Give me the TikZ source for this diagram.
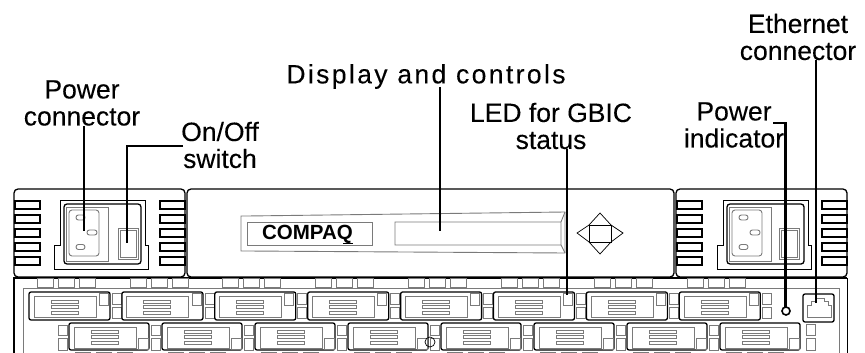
\documentclass[tikz,border=0pt]{standalone}
\usepackage{fontspec}
\setmainfont{Liberation Sans}
\newfontfamily\calloutfont[FakeBold=0.12]{Liberation Sans}
\usetikzlibrary{positioning}
\definecolor{bezel}{HTML}{7A7A7A}
\tikzset{
  callout/.style={align=center,inner sep=0pt,font=\calloutfont\fontsize{26.5}{27}\selectfont},
  leader/.style={black,line width=1.5pt},
  heavy/.style={black,line width=1.3pt,rounded corners=2pt},
  thin grey/.style={bezel,line width=0.9pt},
  ventbox/.style={black,line width=1.1pt},
  tabbox/.style={bezel,line width=0.8pt},
  inletpin/.style={thin grey,rounded corners=2.4pt}
}
\begin{document}
\begin{tikzpicture}[x=1pt,y=-1pt]
  \useasboundingbox (0,0) rectangle (865,353);
  % labels
  \node[callout] (powerconn) at (82,103) {Power\\connector};
  \node[callout] (onoff) at (220,145) {On/Off\\switch};
  \node[callout] (display) at (426,76.5) {\addfontfeature{LetterSpace=9}Display and controls};
  \node[callout] (gbic) at (551,126) {LED for GBIC\\status};
  \node[callout] (indicator) at (734,125) {Power\\indicator};
  \node[callout] (ethernet) at (798,37) {Ethernet\\connector};

  % three front panels
  \draw[heavy,rounded corners=4pt] (14,189) rectangle (185,277);
  \draw[heavy,rounded corners=4pt] (187,189) rectangle (674,277);
  \draw[heavy,rounded corners=4pt] (676,189) rectangle (847,277);
  \foreach \vx in {15,160,677,822}
    \foreach \vy in {201,215,229,243,257}
      \draw[ventbox] (\vx,\vy) rectangle ++(25,8);
  % power inlets
  \foreach \ox in {0,663} {
    \begin{scope}[xshift=\ox pt]
      \draw[black,line width=0.9pt] (60,200) -- (145,200) -- (145,245) -- (148,245) -- (148,269)
        -- (54,269) -- (54,245) -- (60,245) -- cycle;
      \draw[heavy,fill=white,rounded corners=3pt] (64,204) rectangle (141,264);
      \draw[thin grey] (66,207) rectangle (108,261);
      \draw[thin grey,rounded corners=3pt] (69,210) rectangle (99,256);
      \draw[inletpin] (76,215) rectangle ++(9,5);
      \draw[inletpin] (87,230) rectangle ++(10,5);
      \draw[inletpin] (76,244.5) rectangle ++(9,5);
    \end{scope}
  }
  \draw[thin grey] (118,228) rectangle (138,259) (120,230) rectangle (136,257);
  \draw[thin grey] (779,228) rectangle (799,259) (781,230) rectangle (797,257);

  % logo and display window
  \draw[thin grey] (247,216) -- (565,212) -- (565,253) -- (247,251) -- (241,251) -- (241,216) -- cycle;
  \draw[thin grey] (247,222) rectangle (372,245);
  \node[inner sep=0pt,font=\fontsize{20.5}{20}\selectfont\bfseries] (logo) at (307.5,234) {COMPAQ};
  \draw[black,line width=1.5pt] (343,243.5) -- (353,243.5);
  \draw[thin grey] (395,222) rectangle (561,245) (561,245) -- (565,253) (561,222) -- (565,212);
  % keypad
  \draw[black,line width=0.7pt] (600,213) -- (611,225) -- (623,233) -- (611,242) -- (600,254)
    -- (589,242) -- (577,233) -- (589,225) -- cycle;
  \draw[black,line width=0.7pt] (589,225) rectangle (611,242);

  % chassis
  \draw[black,line width=2pt] (14,353) -- (14,278) -- (847,278);
  \draw[black,line width=0.9pt] (847,278) -- (847,353);
  \draw[thin grey] (23,353) -- (23,288) -- (839,288) -- (839,353);
  \foreach \gx in {0,...,7}
    \foreach \tx in {37,58,79}
      \draw[tabbox] ({\tx+92.9*\gx},278) rectangle ++(16,9);
  % upper row of bays
  \foreach \gx in {0,...,7} {
    \begin{scope}[xshift=92.9*\gx pt]
      \draw[heavy,fill=white] (29,292) rectangle (110,320);
      \draw[thin grey] (34,296) rectangle (96,317);
      \draw[tabbox] (99,293) rectangle (108,305);
      \foreach \by in {300,305.5,311}
        \draw[thin grey] (51,\by) rectangle ++(27,3);
      \draw[tabbox] (112,293) rectangle (121,304) (112,307) rectangle (121,318);
    \end{scope}
  }
  % lower row of bays
  \foreach \gx in {0,...,7} {
    \begin{scope}[xshift=93*\gx pt]
      \draw[tabbox] (58,325) rectangle (67,335) (58,338) rectangle (67,350);
      \draw[heavy,fill=white] (69,323) rectangle (149,350);
      \draw[thin grey] (74,327) rectangle (136,348);
      \draw[tabbox] (138,338) rectangle (148,349);
      \foreach \by in {330,335.5,341}
        \draw[thin grey] (91,\by) rectangle ++(27,3);
      \foreach \tx in {75,96,117}
        \fill[bezel] (\tx,351.5) rectangle ++(16,2);
    \end{scope}
  }
  \draw[tabbox] (806,324) rectangle (815,335) (806,338) rectangle (815,350);
  \draw[black,line width=0.7pt] (430,342) circle (5);

  % indicator and ethernet jack
  \draw[black,line width=1.6pt,fill=white] (786,311) circle (4);
  \draw[heavy,fill=white] (803,294) rectangle (834,322);
  \draw[thin grey] (807,317) -- (807,305) -- (811,305) -- (811,301) -- (815,301) -- (815,298)
    -- (824,298) -- (824,301) -- (828,301) -- (828,305) -- (831,305) -- (831,317) -- cycle;

  % leader ends
  \coordinate (inletend) at (84,231);
  \coordinate (switchpad) at (127,243);
  \coordinate (onoffstub) at (183,146);
  \coordinate (displaypad) at (440,231);
  \coordinate (displaystub) at (440,87);
  \coordinate (gbicled) at (567,295);
  \coordinate (powerled) at (785.5,307);
  \coordinate (indicatorstub) at (773,123);
  \coordinate (ethernetjack) at (816,303);
  \draw[leader] (powerconn.south -| inletend) -- (inletend);
  \draw[leader] (onoffstub) -| (switchpad);
  \draw[leader] (displaystub) -- (displaypad);
  \draw[leader] (gbic.south -| gbicled) -- (gbicled);
  \draw[leader,line width=2.4pt] (indicatorstub) -| (powerled);
  \draw[leader] (ethernet.south -| ethernetjack) -- (ethernetjack);
\end{tikzpicture}
\end{document}
